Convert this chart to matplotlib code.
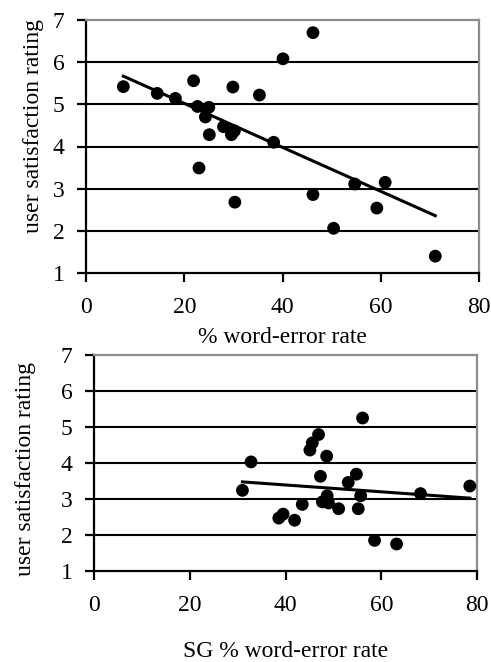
import numpy as np
import matplotlib.pyplot as plt

# top panel: % word-error rate vs user satisfaction
wer_top = [7.6, 14.5, 18.2, 21.9, 22.7, 25.0, 24.3, 25.1, 23.0, 28.0, 29.6, 30.2,
           29.9, 30.3, 35.3, 38.2, 40.1, 46.2, 46.2, 50.4, 54.7, 60.9, 59.2, 71.1]
sat_top = [5.42, 5.26, 5.14, 5.56, 4.95, 4.93, 4.70, 4.28, 3.49, 4.47, 4.28, 4.37,
           5.41, 2.68, 5.22, 4.10, 6.08, 6.70, 2.86, 2.06, 3.11, 3.15, 2.54, 1.40]

# bottom panel: SG % word-error rate vs user satisfaction
wer_bot = [31.0, 32.8, 38.6, 39.5, 41.9, 43.5, 45.1, 45.6, 46.9, 47.3, 47.7, 48.6,
           48.7, 49.0, 51.1, 53.1, 54.8, 55.7, 55.2, 56.1, 58.6, 63.2, 68.2, 78.5]
sat_bot = [3.24, 4.03, 2.47, 2.58, 2.41, 2.85, 4.36, 4.56, 4.79, 3.63, 2.92, 4.19,
           3.09, 2.89, 2.73, 3.46, 3.69, 3.09, 2.73, 5.25, 1.85, 1.75, 3.15, 3.36]

xticks = [0, 20, 40, 60, 80]
yticks = [1, 2, 3, 4, 5, 6, 7]

plt.rcParams['font.family'] = 'Liberation Serif'
plt.rcParams['font.size'] = 17

W, H = 491, 662
fig = plt.figure(figsize=(W / 100, H / 100), dpi=100)


def px_axes(l, t, r, b):
    return fig.add_axes([l / W, 1 - b / H, (r - l) / W, (b - t) / H])


def panel(ax, x, y, xlabel, xlab_pos, ylab_pos):
    x = np.array(x)
    y = np.array(y)
    for v in yticks[1:-1]:
        ax.axhline(v, color='black', lw=1.5, zorder=1)
    ax.scatter(x, y, s=85, color='black', zorder=3, edgecolors='none')
    # linear trendline over the data range
    k, c = np.polyfit(x, y, 1)
    xs = np.array([x.min(), x.max()])
    ax.plot(xs, k * xs + c, color='black', lw=2.2, zorder=2)
    ax.set_xlim(0, 80)
    ax.set_ylim(1, 7)
    ax.set_xticks(xticks)
    ax.set_yticks(yticks)
    for s in ['left', 'bottom']:
        ax.spines[s].set_color('black')
        ax.spines[s].set_linewidth(1.6)
    for s in ['top', 'right']:
        ax.spines[s].set_color('#8c8c8c')
        ax.spines[s].set_linewidth(1.6)
    ax.tick_params(direction='out', length=6.5, width=1.6)
    ax.tick_params(axis='x', pad=11)
    ax.tick_params(axis='y', pad=9)
    ax.set_xlabel(xlabel)
    ax.xaxis.set_label_coords(0.5, xlab_pos)
    ax.set_ylabel('user satisfaction rating')
    ax.yaxis.set_label_coords(ylab_pos[0], ylab_pos[1])


ax1 = px_axes(86, 20, 479, 273)
panel(ax1, wer_top, sat_top, '% word-error rate', -0.213, (-0.107, 0.58))

ax2 = px_axes(94, 355, 477, 571)
panel(ax2, wer_bot, sat_bot, 'SG % word-error rate', -0.324, (-0.152, 0.47))

fig.savefig('out.png', dpi=100)
